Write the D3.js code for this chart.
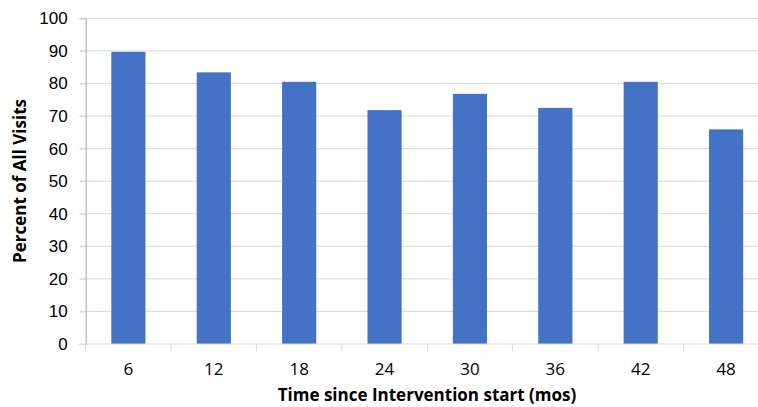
<!DOCTYPE html>
<html>
<head>
<meta charset="utf-8">
<script src="https://cdn.jsdelivr.net/npm/d3@7"></script>
<style>
  body { margin: 0; background: #fff; }
  svg { display: block; font-family: "Open Sans", "Liberation Sans", sans-serif; }
</style>
</head>
<body>
<svg id="chart" width="758" height="407"></svg>
<script>
var months = ["6", "12", "18", "24", "30", "36", "42", "48"];
var percentVisits = [89.7, 83.4, 80.5, 71.8, 76.8, 72.5, 80.5, 65.9];
var yTicks = [0, 10, 20, 30, 40, 50, 60, 70, 80, 90, 100];

var width = 758, height = 407;
var margin = { top: 18.3, left: 85.7, bottom: 63 };
var plotRight = 768.8; // the plot runs past the right edge, like the original

var svg = d3.select("#chart");

var x = d3.scaleBand()
    .domain(months)
    .range([margin.left, plotRight])
    .paddingInner(0.6)
    .paddingOuter(0.3);

var band = d3.scaleBand().domain(months).range([margin.left, plotRight]);

var y = d3.scaleLinear()
    .domain([0, 100])
    .range([height - margin.bottom, margin.top]);

// gridlines
svg.append("g")
    .selectAll("line")
    .data(yTicks.filter(function(d) { return d > 0; }))
    .enter().append("line")
    .attr("x1", margin.left - 6)
    .attr("x2", plotRight)
    .attr("y1", function(d) { return y(d); })
    .attr("y2", function(d) { return y(d); })
    .attr("stroke", "#d9d9d9")
    .attr("stroke-width", 1);

// bars
svg.append("g")
    .selectAll("rect")
    .data(percentVisits)
    .enter().append("rect")
    .attr("x", function(d, i) { return x(months[i]); })
    .attr("width", x.bandwidth())
    .attr("y", function(d) { return y(d); })
    .attr("height", function(d) { return y(0) - y(d); })
    .attr("fill", "#4472c4");

// y axis
var yAxis = svg.append("g")
    .attr("transform", "translate(" + margin.left + ",0)")
    .call(d3.axisLeft(y).tickValues(yTicks).tickSize(6).tickPadding(12));
yAxis.select(".domain").attr("stroke", "#a6a6a6");
yAxis.selectAll(".tick line").attr("stroke", "#d9d9d9");
yAxis.selectAll("text").attr("font-size", 17).attr("fill", "#000");

// x axis: ticks between categories
var xAxisG = svg.append("g")
    .attr("transform", "translate(0," + y(0) + ")");
xAxisG.append("line")
    .attr("x1", margin.left - 6).attr("x2", plotRight)
    .attr("stroke", "#d9d9d9");
xAxisG.selectAll("line.tk")
    .data(months)
    .enter().append("line")
    .attr("class", "tk")
    .attr("x1", function(d) { return band(d); })
    .attr("x2", function(d) { return band(d); })
    .attr("y1", 0).attr("y2", 7)
    .attr("stroke", "#d9d9d9");
xAxisG.selectAll("text")
    .data(months)
    .enter().append("text")
    .attr("x", function(d) { return band(d) + band.bandwidth() / 2; })
    .attr("y", 31)
    .attr("text-anchor", "middle")
    .attr("font-size", 17)
    .text(function(d) { return d; });

// axis titles
svg.append("text")
    .attr("x", 427)
    .attr("y", 401)
    .attr("text-anchor", "middle")
    .attr("font-size", 17)
    .attr("font-weight", "bold")
    .text("Time since Intervention start (mos)");

svg.append("text")
    .attr("transform", "translate(26," + 181 + ") rotate(-90)")
    .attr("text-anchor", "middle")
    .attr("font-size", 17)
    .attr("font-weight", "bold")
    .text("Percent of All Visits");
</script>
</body>
</html>
